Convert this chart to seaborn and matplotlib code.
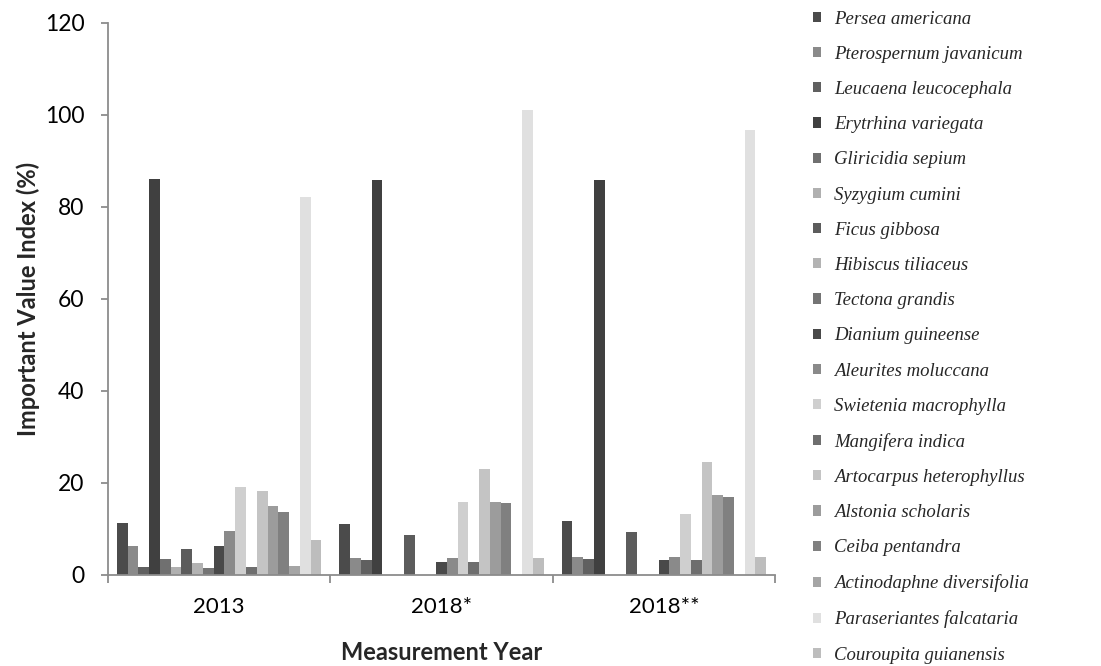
import matplotlib
matplotlib.use("Agg")
import matplotlib.pyplot as plt
import numpy as np
import pandas as pd
import seaborn as sns

# Important value index per species for each measurement year
species = ["Persea americana", "Pterospernum javanicum", "Leucaena leucocephala",
           "Erytrhina variegata", "Gliricidia sepium", "Syzygium cumini",
           "Ficus gibbosa", "Hibiscus tiliaceus", "Tectona grandis",
           "Dianium guineense", "Aleurites moluccana", "Swietenia macrophylla",
           "Mangifera indica", "Artocarpus heterophyllus", "Alstonia scholaris",
           "Ceiba pentandra", "Actinodaphne diversifolia", "Paraseriantes falcataria",
           "Couroupita guianensis"]
years = ["2013", "2018*", "2018**"]
iv_2013  = [11.2, 6.2, 1.7, 86.1, 3.4, 1.7, 5.6, 2.5, 1.4, 6.2, 9.5, 19.1, 1.7, 18.2, 14.9, 13.7, 2.0, 82.1, 7.5]
iv_2018a = [11.0, 3.6, 3.1, 85.9, 0.0, 0.0, 8.6, 0.0, 0.0, 2.8, 3.6, 15.9, 2.8, 23.0, 15.9, 15.6, 0.0, 101.1, 3.6]
iv_2018b = [11.7, 3.9, 3.4, 85.9, 0.0, 0.0, 9.3, 0.0, 0.0, 3.1, 3.9, 13.2, 3.1, 24.6, 17.3, 16.9, 0.0, 96.6, 3.9]
greys = ["#4b4b4b", "#8a8a8a", "#606060", "#404040", "#707070", "#b0b0b0",
         "#5c5c5c", "#b3b3b3", "#747474", "#494949", "#8a8a8a", "#cfcfcf",
         "#6e6e6e", "#c4c4c4", "#9c9c9c", "#808080", "#a5a5a5", "#e0e0e0",
         "#bdbdbd"]

df = pd.DataFrame({
    "year": np.repeat(years, len(species)),
    "species": species * len(years),
    "iv": iv_2013 + iv_2018a + iv_2018b,
})

sns.set_theme(style="white")
plt.rcParams["font.family"] = ["Lato", "DejaVu Sans"]

fig = plt.figure(figsize=(11.01, 6.66), dpi=100)
ax = fig.add_axes([0.098, 0.137, 0.606, 0.829])

sns.barplot(data=df, x="year", y="iv", hue="species", hue_order=species,
            order=years, palette=greys, saturation=1, width=0.92,
            linewidth=0, ax=ax)

ax.set_xlim(-0.5, 2.5)
ax.set_ylim(0, 120)
ax.set_yticks(np.arange(0, 121, 20))
ax.set_xticks(range(len(years)), years)
ax.set_xticks([-0.5, 0.5, 1.5, 2.5], minor=True)

spine_col = "#8c8c8c"
for s in ["top", "right"]:
    ax.spines[s].set_visible(False)
for s in ["left", "bottom"]:
    ax.spines[s].set_color(spine_col)
    ax.spines[s].set_linewidth(1.3)

ax.tick_params(axis="y", which="major", left=True, length=5, width=1.3,
               color=spine_col, labelsize=16.5, pad=12, labelcolor="black")
ax.tick_params(axis="x", which="major", bottom=False, labelsize=16, pad=10,
               labelcolor="black")
ax.tick_params(axis="x", which="minor", bottom=True, length=6, width=1.3,
               color=spine_col)

ax.set_xlabel("Measurement Year", fontsize=17, fontweight="bold", labelpad=17)
ax.set_ylabel("Important Value Index (%)", fontsize=17, fontweight="bold", labelpad=3)

sns.move_legend(ax, loc="upper left", bbox_to_anchor=(0.738, 0.984),
                bbox_transform=fig.transFigure, frameon=False, title=None,
                prop={"family": "Liberation Serif", "style": "italic", "size": 13.5},
                handlelength=0.45, handleheight=0.45, handletextpad=0.7,
                labelspacing=0.97, borderpad=0, borderaxespad=0)

fig.savefig("out.png", dpi=100, facecolor="white")
